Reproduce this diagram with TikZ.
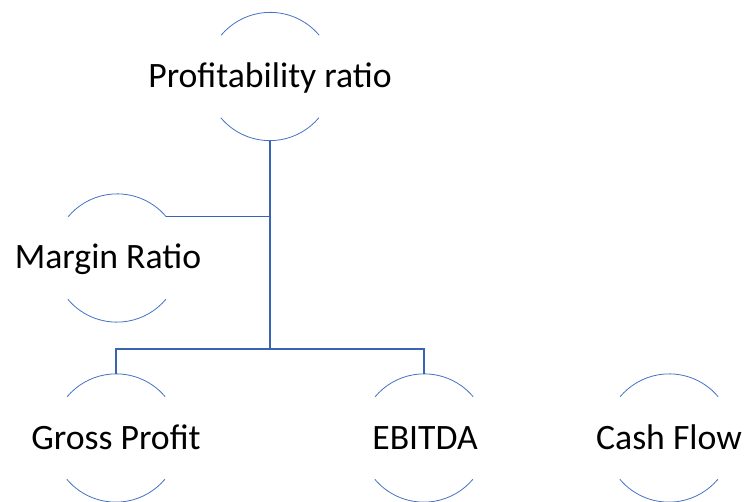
\documentclass[tikz,border=0pt]{standalone}
\usepackage{fontspec}
\setmainfont{Carlito}
\usetikzlibrary{positioning}
\definecolor{ringBlue}{HTML}{4472C4}
\definecolor{linkBlue}{HTML}{3A64B0}

\tikzset{
  ring/.style={circle,minimum size=128pt,inner sep=0pt,draw=none},
  caption/.style={anchor=base,inner sep=0pt,font=\fontsize{35.7}{43}\selectfont},
  arcline/.style={ringBlue,line width=0.8pt},
  link/.style={linkBlue,line width=1.1pt}
}

\begin{document}
\begin{tikzpicture}[x=1pt,y=1pt]
      \useasboundingbox (0,0) rectangle (746,-502);
      % rings with their captions (\s = caption offset)
      \foreach \n/\x/\y/\s/\t in {%
        prof/270/-76.5/0/Profitability ratio,
        marg/117/-258/-9/Margin Ratio,
        gross/116/-438/0/Gross Profit,
        ebitda/424/-438/1/EBITDA,
        cash/669/-438/0/Cash Flow}{%
        \node[ring] (\n) at (\x,\y) {};
        \node[caption] (\n-txt) at ([xshift=\s pt,yshift=-11pt]\n.center) {\t};
        \draw[arcline] (\n.40) arc[start angle=40,end angle=140,radius=64pt];
        \draw[arcline] (\n.220) arc[start angle=220,end angle=320,radius=64pt];
      }
      % tree links
      \coordinate (fork) at (270,-349);
      \draw[link] (prof.south) -- (fork);
      \draw[link] (marg.40) -- (marg.40 -| prof.south);
      \draw[link] (gross.north) -- (gross.north |- fork) -- (ebitda.north |- fork) -- (ebitda.north);
    \end{tikzpicture}
\end{document}
